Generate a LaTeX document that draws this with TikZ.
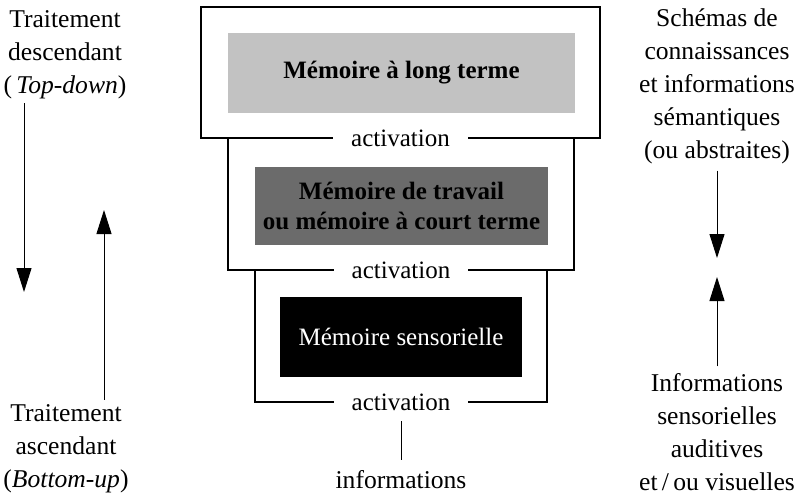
\documentclass[tikz,border=0pt]{standalone}
\usepackage{fontspec}
\setmainfont{Liberation Serif}
\usetikzlibrary{arrows.meta}
\definecolor{ltmgrey}{gray}{0.76}
\definecolor{mctgrey}{gray}{0.42}
\begin{document}
\begin{tikzpicture}[x=0.5pt, y=-0.5pt,
	every node/.style={font=\fontsize{12.8}{16.5}\selectfont, align=center},
	frame/.style={draw, line width=0.6pt, inner sep=0pt},
	membox/.style={inner sep=0pt, font=\fontsize{12.5}{15}\selectfont\bfseries},
	actlabel/.style={fill=white, inner xsep=9pt, inner ysep=1pt},
	flow/.style={line width=0.5pt, -{Triangle[length=12pt, width=7.5pt]}}]
		\useasboundingbox (0,0) rectangle (803,494);
		
		% cadres
		\node[frame, minimum width=199.5pt, minimum height=65.5pt] at (400.5,72.5) (F1) {};
		\node[frame, minimum width=173pt, minimum height=66pt] at (401,204) (F2) {};
		\node[frame, minimum width=146pt, minimum height=66pt] at (401,336) (F3) {};
		
		% memoires
		\node[membox, fill=ltmgrey, minimum width=173.5pt, minimum height=40pt] at (401.5,73) (MLT) {M\'emoire \`a long terme};
		\node[membox, fill=mctgrey, minimum width=146.5pt, minimum height=39pt] at (401.5,206) (MCT) {M\'emoire de travail\\ou m\'emoire \`a court terme};
		\node[membox, fill=black, text=white, font=\fontsize{12.5}{15}\selectfont, minimum width=121pt, minimum height=40pt] at (401,337) (MS) {M\'emoire sensorielle};
		
		\node[actlabel, font=\fontsize{12.5}{15}\selectfont] at (F1.south) (A1) {activation};
		\node[actlabel, font=\fontsize{12.5}{15}\selectfont] at (F2.south) (A2) {activation};
		\node[actlabel, font=\fontsize{12.5}{15}\selectfont] at (F3.south) (A3) {activation};
		\node at (401,480) (INFO) {informations};
		\draw[line width=0.5pt, shorten <=4pt, shorten >=2pt] (A3) -- (INFO);
		
		% traitements
		\node at (65,55) (TD) {Traitement\\descendant\\(\,\textit{Top-down})};
		\node at (66,449) (BU) {Traitement\\ascendant\\(\textit{Bottom-up})};
		\coordinate (TDtip) at (24,292);
		\coordinate (BUtip) at (104,210);
		\draw[flow] (TD.south -| TDtip) ++(0,-3) -- (TDtip);
		\draw[flow] (BU.north -| BUtip) ++(0,2) -- (BUtip);
		
		% informations
		\node at (717,86) (SEM) {Sch\'emas de\\connaissances\\et informations\\s\'emantiques\\(ou abstraites)};
		\node at (717,432) (SENS) {Informations\\sensorielles\\auditives\\et\,/\,ou visuelles};
		\coordinate (SEMtip) at (717,258);
		\coordinate (SENStip) at (717,277);
		\draw[flow] (SEM) -- (SEMtip);
		\draw[flow] (SENS) -- (SENStip);
\end{tikzpicture}
\end{document}
